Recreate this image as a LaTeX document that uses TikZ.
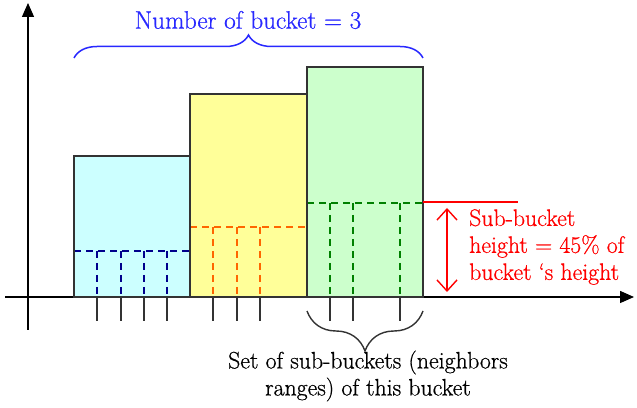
\documentclass[tikz,border=0pt]{standalone}
\usepackage{fontspec}
\newfontfamily\labelfont{Latin Modern Roman}[FakeBold=0.7,Ligatures=TeX]
\usetikzlibrary{arrows.meta,decorations.pathreplacing}

\definecolor{cyanfill}{RGB}{204,255,255}
\definecolor{yellowfill}{RGB}{255,255,153}
\definecolor{greenfill}{RGB}{204,255,204}
\definecolor{navydash}{RGB}{0,0,140}
\definecolor{orangedash}{RGB}{255,102,0}
\definecolor{greendash}{RGB}{0,128,0}
\definecolor{braceblue}{RGB}{40,40,255}

\begin{document}
\begin{tikzpicture}[x=1pt,y=1pt,
    bucket/.style={draw=black!80,line width=1.4pt},
    subline/.style={line width=1.3pt,dash pattern=on 7pt off 5pt},
    tick/.style={draw=black!80,line width=1.3pt},
    axis/.style={line width=1.4pt,-{Triangle[length=14pt,width=12pt]}},
    label/.style={font=\labelfont\fontsize{23.8}{27}\selectfont,inner sep=0pt}]

    \useasboundingbox (0,0) rectangle (637,407);

    % Axes
    \coordinate (xstart) at (5,110);
    \coordinate (xend) at (634,110);
    \coordinate (ystart) at (28,77);
    \coordinate (yend) at (28,404);
    \draw[axis] (xstart) -- (xend);
    \draw[axis] (ystart) -- (yend);

    % Buckets
    \draw[bucket,fill=cyanfill] (74,110) rectangle (190,251);
    \draw[bucket,fill=yellowfill] (190,110) rectangle (307,313);
    \draw[bucket,fill=greenfill] (307,110) rectangle (423,340);

    % Sub-buckets
    \draw[subline,navydash] (74,156) -- (190,156);
    \foreach \x in {97,121,144,167} {
        \draw[subline,navydash] (\x,156) -- (\x,110);
        \draw[tick] (\x,110) -- (\x,86);     % small tick
    }
    \draw[subline,orangedash] (190,180) -- (307,180);
    \foreach \x in {213,237,260} {
        \draw[subline,orangedash] (\x,180) -- (\x,110);
        \draw[tick] (\x,110) -- (\x,86);
    }
    \draw[subline,greendash] (307,204) -- (423,204);
    \foreach \x in {330,353,400} {
        \draw[subline,greendash] (\x,204) -- (\x,110);
        \draw[tick] (\x,110) -- (\x,86);
    }
    \draw[bucket,fill=none] (74,110) rectangle (190,251);
    \draw[bucket,fill=none] (190,110) rectangle (307,313);
    \draw[bucket,fill=none] (307,110) rectangle (423,340);

    % Sub-bucket height
    \coordinate (hleft) at (423,205);
    \coordinate (hright) at (518,205);
    \coordinate (htop) at (447,199);
    \coordinate (hbottom) at (447,115);
    \draw[red,line width=1.4pt] (hleft) -- (hright);
    \draw[red,line width=1.4pt,{Straight Barb[length=11pt,width=20pt]}-{Straight Barb[length=11pt,width=20pt]}] (htop) -- (hbottom);
    \node[label,red,anchor=west,align=left] (hlabel) at (469,160)
        {Sub-bucket\\height = 45\% of\\bucket ‘s height};

    % Braces
    \draw[braceblue,line width=1.5pt,decorate,decoration={brace,amplitude=23pt}]
        (74,349) -- (423,349);
    \node[label,braceblue,font=\labelfont\fontsize{25.2}{29}\selectfont] (nbucket) at (248,387)
        {Number of bucket = 3};
    \draw[black!80,line width=1.4pt,decorate,decoration={brace,amplitude=40pt}]
        (423,96) -- (307,96);
    \node[label,align=center] (setlabel) at (368,31)
        {Set of sub-buckets (neighbors\\ranges) of this bucket};

\end{tikzpicture}
\end{document}
